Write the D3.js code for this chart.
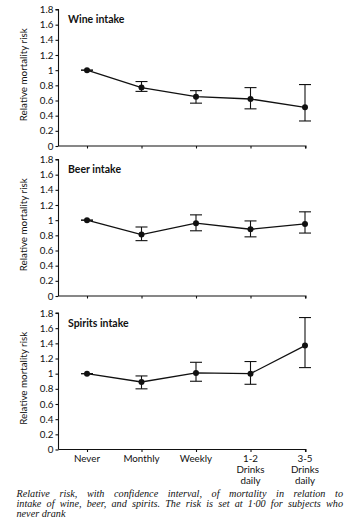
<!DOCTYPE html>
<html>
<head>
<meta charset="utf-8">
<script src="https://cdn.jsdelivr.net/npm/d3@7"></script>
<style>
  body { margin: 0; background: #fff; }
  svg text { fill: #111; }
</style>
</head>
<body>
<svg id="chart" width="362" height="520"></svg>
<script>
const categories = ["Never", "Monthly", "Weekly", "1-2 Drinks daily", "3-5 Drinks daily"];
const tickLabels = [["Never"], ["Monthly"], ["Weekly"], ["1-2", "Drinks", "daily"], ["3-5", "Drinks", "daily"]];
const yTicks = [0, 0.2, 0.4, 0.6, 0.8, 1, 1.2, 1.4, 1.6, 1.8];

const panelTitles = ["Wine intake", "Beer intake", "Spirits intake"];
// relative risk and confidence interval, per category
const wineRisk = [1, 0.77, 0.65, 0.62, 0.51];
const wineLow  = [1, 0.72, 0.565, 0.49, 0.33];
const wineHigh = [1, 0.85, 0.73, 0.77, 0.81];
const beerRisk = [1, 0.81, 0.96, 0.88, 0.95];
const beerLow  = [1, 0.73, 0.86, 0.78, 0.83];
const beerHigh = [1, 0.91, 1.07, 0.99, 1.11];
const spiritsRisk = [1, 0.89, 1.01, 1.0, 1.37];
const spiritsLow  = [1, 0.80, 0.90, 0.86, 1.08];
const spiritsHigh = [1, 0.97, 1.15, 1.16, 1.74];

const caption = [
  "Relative risk, with confidence interval, of mortality in relation to",
  "intake of wine, beer, and spirits. The risk is set at 1\u00b700 for subjects who",
  "never drank"
];

const panels = [
  { title: panelTitles[0], risk: wineRisk, lo: wineLow, hi: wineHigh },
  { title: panelTitles[1], risk: beerRisk, lo: beerLow, hi: beerHigh },
  { title: panelTitles[2], risk: spiritsRisk, lo: spiritsLow, hi: spiritsHigh }
];

const svg = d3.select("#chart");
const font = "Lato, 'Open Sans', sans-serif";

const axisLeft = 58.5, axisRight = 306;
const x = d3.scalePoint().domain(categories).range([87, 305]);

const tops = [9.5, 159.5, 313];
const ph = 136.5;

panels.forEach((p, k) => {
  const g = svg.append("g").attr("transform", `translate(0,${tops[k]})`);
  const y = d3.scaleLinear().domain([0, 1.8]).range([ph, 0]);

  // y axis
  const ya = g.append("g").attr("transform", `translate(${axisLeft},0)`)
    .call(d3.axisLeft(y).tickValues(yTicks).tickSize(3).tickPadding(2)
      .tickFormat(d => d === 0 || d === 1 ? d : d3.format(".1f")(d)));
  ya.select(".domain").attr("d", `M-3,0H0V${ph}`).attr("stroke", "#111").attr("stroke-width", 1.1);
  ya.selectAll(".tick line").attr("stroke", "#111").attr("stroke-width", 1.1);
  ya.selectAll("text").style("font-family", font).style("font-size", "9.8px").attr("fill", "#111");

  // x axis
  const xa = g.append("g").attr("transform", `translate(0,${ph})`)
    .call(d3.axisBottom(x).tickSize(2.5).tickFormat(""));
  xa.select(".domain").attr("d", `M${axisLeft},0H${axisRight}V2.5`).attr("stroke", "#111").attr("stroke-width", 1.1);
  xa.selectAll(".tick line").attr("stroke", "#111").attr("stroke-width", 1.1);

  // y title
  g.append("text")
    .attr("transform", `translate(27,${ph / 2 - 3}) rotate(-90)`)
    .attr("text-anchor", "middle")
    .style("font-family", font).style("font-size", "9.8px")
    .text("Relative mortality risk");

  // panel title
  g.append("text")
    .attr("x", 68).attr("y", 13.5)
    .style("font-family", font).style("font-size", "10.5px").style("font-weight", "bold")
    .text(p.title);

  // connecting line
  const line = d3.line().x((d, i) => x(categories[i])).y(d => y(d));
  g.append("path").datum(p.risk)
    .attr("d", line).attr("fill", "none").attr("stroke", "#111").attr("stroke-width", 1.3);

  // error bars
  const eb = g.selectAll(".eb").data(categories).join("g");
  eb.append("line")
    .attr("x1", d => x(d)).attr("x2", d => x(d))
    .attr("y1", (d, i) => y(p.lo[i])).attr("y2", (d, i) => y(p.hi[i]))
    .attr("stroke", "#111").attr("stroke-width", 1.1);
  [p.lo, p.hi].forEach(arr => {
    eb.append("line")
      .attr("x1", d => x(d) - 6).attr("x2", d => x(d) + 6)
      .attr("y1", (d, i) => y(arr[i])).attr("y2", (d, i) => y(arr[i]))
      .attr("stroke", "#111").attr("stroke-width", 1.1);
  });
  eb.append("circle")
    .attr("cx", d => x(d)).attr("cy", (d, i) => y(p.risk[i]))
    .attr("r", 3).attr("fill", "#111");
});

// x labels under the bottom panel
const lab = svg.append("g").style("font-family", font).style("font-size", "9.8px");
categories.forEach((c, i) => {
  const t = lab.append("text").attr("text-anchor", "middle");
  tickLabels[i].forEach((s, j) => {
    t.append("tspan").attr("x", x(c)).attr("y", 462 + j * 10.8).text(s);
  });
});

// caption, justified
const capG = svg.append("g")
  .style("font-family", "'Liberation Serif', 'DejaVu Serif', serif")
  .style("font-style", "italic").style("font-size", "10.2px");
const capX = 16.5, capW = 326.5;
caption.forEach((s, i) => {
  const t = capG.append("text").attr("x", capX).attr("y", 496.5 + i * 10.3).text(s);
  if (i < caption.length - 1) {
    const gaps = s.split(" ").length - 1;
    const w = t.node().getComputedTextLength();
    t.attr("word-spacing", Math.max(0, (capW - w) / gaps));
  }
});
</script>
</body>
</html>
